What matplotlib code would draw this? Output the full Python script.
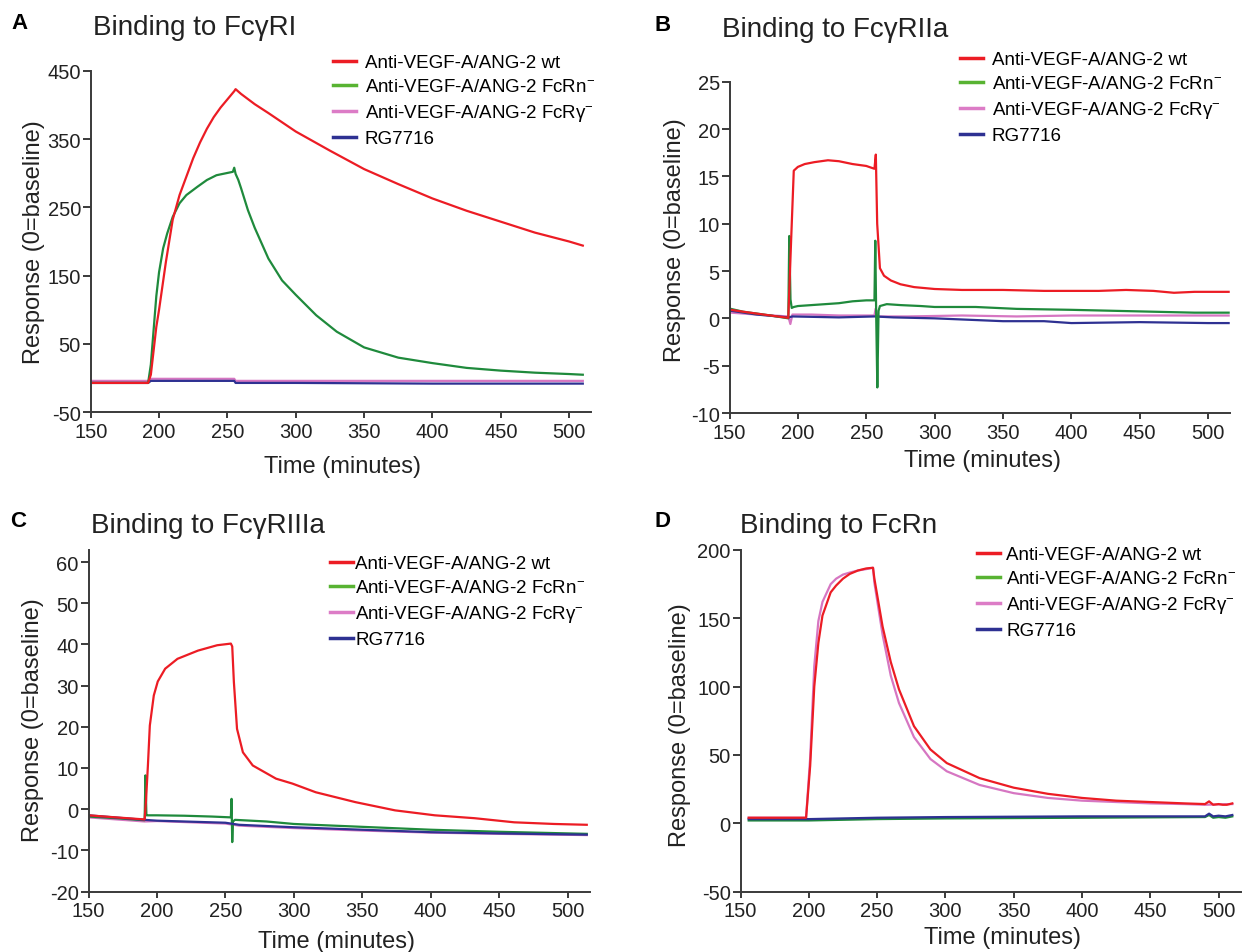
import matplotlib
matplotlib.use("Agg")
import matplotlib.pyplot as plt
from matplotlib.lines import Line2D

plt.rcParams['font.family'] = ['Liberation Sans', 'DejaVu Sans']
plt.rcParams['mathtext.fontset'] = 'custom'
plt.rcParams['mathtext.rm'] = 'Liberation Sans'
plt.rcParams['mathtext.it'] = 'Liberation Sans:italic'
plt.rcParams['mathtext.bf'] = 'Liberation Sans:bold'
plt.rcParams['axes.unicode_minus'] = False

# ---- data (time in minutes, response units) ----
series_labels = ['Anti-VEGF-A/ANG-2 wt', 'Anti-VEGF-A/ANG-2 FcRn$^{-}$',
                 'Anti-VEGF-A/ANG-2 FcR\u03b3$^{-}$', 'RG7716']

# A: binding to FcgRI
a_t_wt = [150, 192, 194, 196, 198, 200, 205, 210, 215, 220, 225, 230, 235, 240, 245, 250, 255, 256,
          260, 270, 280, 300, 325, 350, 375, 400, 425, 450, 475, 500, 510]
a_wt = [-7, -7, 5, 40, 75, 100, 170, 232, 268, 295, 322, 345, 365, 382, 396, 408, 420, 423,
        416, 401, 388, 361, 333, 306, 284, 263, 245, 229, 213, 200, 194]
a_t_fcrn = [150, 192, 194, 196, 198, 200, 203, 206, 210, 215, 220, 228, 235, 242, 254, 255, 256, 258,
            260, 265, 270, 280, 290, 300, 315, 330, 350, 375, 400, 425, 450, 475, 500, 510]
a_fcrn = [-7, -7, 20, 70, 120, 155, 190, 212, 236, 256, 268, 280, 290, 297, 302, 308, 299, 290,
          278, 246, 220, 175, 143, 122, 92, 68, 45, 30, 22, 15, 11, 8, 6, 5]
a_t_fcrg = [150, 192, 194, 255, 256, 300, 400, 510]
a_fcrg = [-4, -4, -1, -1, -4, -4, -4, -4]
a_t_rg = [150, 192, 194, 255, 256, 300, 400, 510]
a_rg = [-7, -7, -4, -4, -7, -7, -8, -8]

# B: binding to FcgRIIa
b_t_wt = [151, 160, 170, 180, 193, 195, 197, 200, 205, 212, 222, 230, 240, 250, 256, 257, 258,
          260, 263, 268, 275, 285, 300, 320, 350, 380, 400, 420, 440, 460, 475, 490, 500, 515]
b_wt = [0.9, 0.7, 0.5, 0.3, 0.05, 8.0, 15.6, 16.0, 16.3, 16.5, 16.7, 16.6, 16.3, 16.1, 15.8, 17.3, 10.0,
        5.3, 4.5, 4.0, 3.6, 3.3, 3.1, 3.0, 3.0, 2.9, 2.9, 2.9, 3.0, 2.9, 2.7, 2.8, 2.8, 2.8]
b_t_fcrn = [151, 160, 170, 180, 193, 193.7, 194.6, 195.5, 197, 200, 210, 220, 230, 240, 250, 256,
            256.6, 257.3, 258.1, 259, 260, 265, 275, 290, 300, 330, 360, 400, 430, 460, 490, 515]
b_fcrn = [1.0, 0.7, 0.5, 0.3, 0.0, 8.7, 2.0, 1.1, 1.2, 1.3, 1.4, 1.5, 1.6, 1.8, 1.9, 1.9,
          8.2, 0.0, -7.3, 0.8, 1.3, 1.5, 1.4, 1.3, 1.2, 1.2, 1.0, 0.9, 0.8, 0.7, 0.6, 0.6]
b_t_fcrg = [151, 170, 193, 194.5, 196, 210, 230, 250, 256, 256.8, 258, 280, 320, 360, 400, 450, 515]
b_fcrg = [0.6, 0.4, 0.2, -0.6, 0.4, 0.4, 0.3, 0.3, 0.3, 1.0, 0.2, 0.2, 0.3, 0.2, 0.3, 0.3, 0.3]
b_t_rg = [151, 170, 193, 196, 230, 256, 270, 300, 350, 380, 400, 450, 500, 515]
b_rg = [0.8, 0.4, 0.1, 0.2, 0.1, 0.2, 0.1, 0.0, -0.3, -0.3, -0.5, -0.4, -0.5, -0.5]

# C: binding to FcgRIIIa
c_t_wt = [150, 170, 191, 192, 193.4, 194.8, 197.7, 200.6, 206, 215, 230, 244, 254, 255, 256.2, 258.5,
          262.8, 270, 287, 299, 316, 345, 374, 403, 432, 461, 490, 514]
c_wt = [-1.5, -2.0, -2.5, 2.0, 10.6, 20.3, 27.6, 31.0, 34.1, 36.5, 38.5, 39.8, 40.2, 39.5, 30.9, 19.5,
        13.8, 10.6, 7.4, 6.2, 4.1, 1.7, -0.3, -1.5, -2.2, -3.2, -3.6, -3.8]
c_t_fcrn = [150, 170, 191, 191.6, 192.3, 193, 200, 220, 240, 254, 254.5, 255, 255.5, 257, 280, 300,
            350, 400, 450, 514]
c_fcrn = [-1.8, -2.2, -2.7, 8.2, -1.5, -1.5, -1.5, -1.6, -1.8, -2.0, 2.5, -8.0, -3.0, -2.6, -3.0, -3.6,
          -4.3, -5.0, -5.5, -6.0]
c_t_base = [150, 191, 200, 250, 260, 300, 350, 400, 450, 514]
c_fcrg = [-2.0, -3.0, -2.9, -3.5, -4.0, -4.6, -5.2, -5.7, -6.0, -6.3]
c_rg = [-1.5, -2.6, -2.8, -3.3, -3.8, -4.4, -5.0, -5.6, -5.9, -6.2]

# D: binding to FcRn
d_t_wt = [156, 198, 201, 204, 207, 210, 216, 220, 225, 230, 236, 242, 247, 248, 254, 260, 266, 277,
          289, 301, 325, 350, 375, 400, 425, 450, 475, 490, 493, 496, 500, 503, 506, 510]
d_wt = [4, 4, 42, 100, 132, 152, 169, 174, 179, 182.5, 185, 186.5, 187, 179, 144, 118, 98, 71,
        54, 44, 33, 26, 21.5, 18.5, 16.5, 15.5, 14.5, 14, 16, 13.5, 14, 13.5, 13.5, 14.5]
d_t_fcrg = [156, 198, 201, 204, 207, 210, 216, 220, 225, 230, 236, 242, 247, 248, 254, 260, 266, 277,
            289, 301, 325, 350, 375, 400, 425, 450, 475, 490, 510]
d_fcrg = [4, 4, 48, 115, 148, 162, 175, 179, 182, 183.5, 185, 186, 187, 176, 138, 108, 88, 63,
          47, 38, 28, 22, 18.5, 16.5, 15.5, 14.5, 14, 13.5, 14]
d_t_base = [156, 200, 250, 300, 400, 490, 493, 496, 500, 505, 510]
d_fcrn = [2, 2, 3, 3.5, 4, 4.5, 6, 4, 4.5, 4, 5]
d_rg = [3, 3, 4, 4.5, 5, 5, 7, 5, 5.5, 5, 6]

# ---- styling ----
RED = '#ec1c24'
GREEN = '#1f8a3c'
PINK = '#d676c2'
BLUE = '#2e3192'
LEG_COLORS = ['#ec1c24', '#58b332', '#dc7cc6', '#2e3192']

fig = plt.figure(figsize=(12.42, 9.53), dpi=100)
W, H = 1242.0, 953.0


def px_axes(left, top, right, bottom):
    return fig.add_axes([left / W, 1 - bottom / H, (right - left) / W, (bottom - top) / H])


def style(ax, ylim, yticks):
    ax.set_xlim(150, 516)
    ax.set_ylim(*ylim)
    ax.set_xticks(range(150, 501, 50))
    ax.set_yticks(yticks)
    for s in ['top', 'right']:
        ax.spines[s].set_visible(False)
    for s in ['left', 'bottom']:
        ax.spines[s].set_color('#3a3a3a')
        ax.spines[s].set_linewidth(1.4)
    ax.tick_params(axis='y', length=6, width=1.4, pad=1, labelsize=14.5, color='#3a3a3a', labelcolor='#222')
    ax.tick_params(axis='x', length=4.5, width=1.4, pad=2.5, labelsize=14.5, color='#3a3a3a', labelcolor='#222')


def labels(ax, xl, yl):
    ax.set_xlabel('Time (minutes)', fontsize=17, va='center', color='#222')
    ax.xaxis.set_label_coords(xl[0] / W, 1 - xl[1] / H, transform=fig.transFigure)
    ax.set_ylabel('Response (0=baseline)', fontsize=17, va='center', color='#222')
    ax.yaxis.set_label_coords(yl[0] / W, 1 - yl[1] / H, transform=fig.transFigure)


def legend(ax, x, y, pad):
    handles = [Line2D([], [], color=c, lw=2.5) for c in LEG_COLORS]
    ax.legend(handles, series_labels, loc='upper left', bbox_to_anchor=(x / W, 1 - y / H),
              bbox_transform=fig.transFigure, frameon=False, borderpad=0, borderaxespad=0,
              handlelength=1.25, handletextpad=pad, labelspacing=0.37, fontsize=13.5)


def heading(letter, lx, title, tx, base):
    fig.text(lx / W, 1 - base / H, letter, fontsize=16, fontweight='bold', va='baseline')
    fig.text(tx / W, 1 - (base + 6) / H, title, fontsize=20, va='baseline', color='#222')


lw = 1.6

# A
ax = px_axes(90.7, 71.7, 591, 413.3)
ax.plot(a_t_fcrg, a_fcrg, color=PINK, lw=lw)
ax.plot(a_t_rg, a_rg, color=BLUE, lw=lw)
ax.plot(a_t_fcrn, a_fcrn, color=GREEN, lw=lw)
ax.plot(a_t_wt, a_wt, color=RED, lw=lw)
style(ax, (-50, 450), [-50, 50, 150, 250, 350, 450])
labels(ax, (342, 467), (34, 242))
legend(ax, 333, 55, 0.45)
heading('A', 11, 'Binding to Fc\u03b3RI', 93, 29)

# B
ax = px_axes(729.5, 82.7, 1230, 414)
ax.plot(b_t_fcrg, b_fcrg, color=PINK, lw=lw)
ax.plot(b_t_rg, b_rg, color=BLUE, lw=lw)
ax.plot(b_t_fcrn, b_fcrn, color=GREEN, lw=lw)
ax.plot(b_t_wt, b_wt, color=RED, lw=lw)
style(ax, (-10, 25), [-10, -5, 0, 5, 10, 15, 20, 25])
labels(ax, (983, 461), (675, 240))
legend(ax, 960, 52, 0.45)
heading('B', 655, 'Binding to Fc\u03b3RIIa', 722, 31)

# C
ax = px_axes(88.5, 550.7, 589.5, 892.5)
ax.plot(c_t_base, c_fcrg, color=PINK, lw=lw)
ax.plot(c_t_fcrn, c_fcrn, color=GREEN, lw=lw)
ax.plot(c_t_base, c_rg, color=BLUE, lw=lw)
ax.plot(c_t_wt, c_wt, color=RED, lw=lw)
style(ax, (-20, 63), [-20, -10, 0, 10, 20, 30, 40, 50, 60])
labels(ax, (336, 942), (33, 720))
legend(ax, 330, 556, 0.1)
heading('C', 10, 'Binding to Fc\u03b3RIIIa', 91, 527)

# D
ax = px_axes(740.5, 551, 1240.5, 892.5)
ax.plot(d_t_fcrg, d_fcrg, color=PINK, lw=lw)
ax.plot(d_t_base, d_fcrn, color=GREEN, lw=lw)
ax.plot(d_t_base, d_rg, color=BLUE, lw=lw)
ax.plot(d_t_wt, d_wt, color=RED, lw=lw)
style(ax, (-50, 200), [-50, 0, 50, 100, 150, 200])
labels(ax, (1002, 938), (680, 725))
legend(ax, 977, 547, 0.3)
heading('D', 655, 'Binding to FcRn', 740, 527)

fig.savefig('out.png', dpi=100)
